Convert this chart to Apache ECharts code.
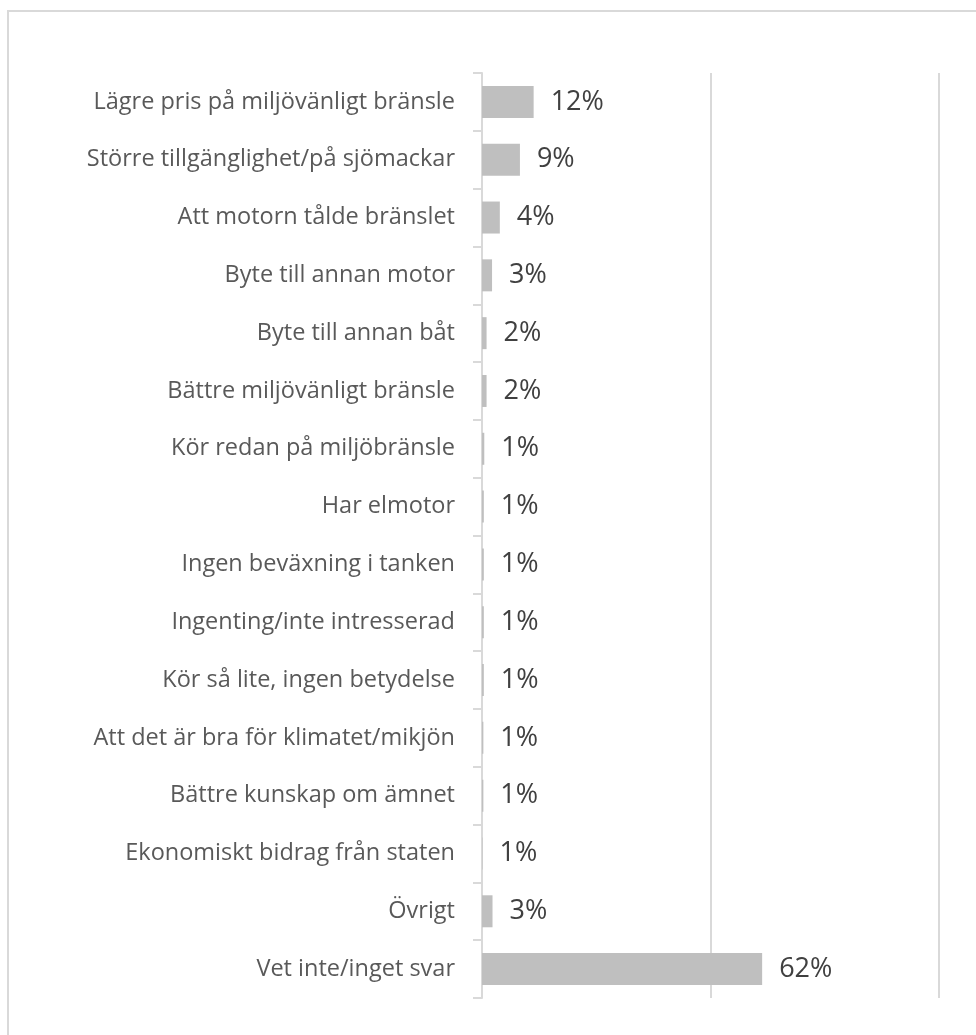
<!DOCTYPE html>
<html>
<head>
<meta charset="utf-8">
<script src="https://cdn.jsdelivr.net/npm/echarts@6/dist/echarts.min.js"></script>
<style>
  html, body { margin: 0; padding: 0; background: #ffffff; }
  #chart { width: 976px; height: 1035px; }
</style>
</head>
<body>
<div id="chart"></div>
<script>
const categories = [
  "Lägre pris på miljövänligt bränsle",
  "Större tillgänglighet/på sjömackar",
  "Att motorn tålde bränslet",
  "Byte till annan motor",
  "Byte till annan båt",
  "Bättre miljövänligt bränsle",
  "Kör redan på miljöbränsle",
  "Har elmotor",
  "Ingen beväxning i tanken",
  "Ingenting/inte intresserad",
  "Kör så lite, ingen betydelse",
  "Att det är bra för klimatet/mikjön",
  "Bättre kunskap om ämnet",
  "Ekonomiskt bidrag från staten",
  "Övrigt",
  "Vet inte/inget svar"
];
const values = [11.3, 8.3, 3.9, 2.2, 1.0, 1.0, 0.5, 0.4, 0.4, 0.4, 0.4, 0.3, 0.3, 0.1, 2.3, 61.3];
const valueLabels = ["12%", "9%", "4%", "3%", "2%", "2%", "1%", "1%", "1%", "1%", "1%", "1%", "1%", "1%", "3%", "62%"];
const axisTicks = [0, 50, 100];

const chart = echarts.init(document.getElementById('chart'), null, { renderer: 'canvas' });
chart.setOption({
  animation: false,
  backgroundColor: '#ffffff',
  graphic: [{
    type: 'rect',
    shape: { x: 8, y: 11, width: 1100, height: 1100 },
    style: { fill: 'none', stroke: '#d9d9d9', lineWidth: 2 },
    silent: true
  }],
  grid: { left: 482, right: 37, top: 73, bottom: 37, containLabel: false },
  xAxis: {
    type: 'value',
    min: axisTicks[0],
    max: axisTicks[axisTicks.length - 1],
    interval: axisTicks[1] - axisTicks[0],
    axisLine: { show: false },
    axisTick: { show: false },
    axisLabel: { show: false },
    splitLine: { show: true, lineStyle: { color: '#d9d9d9', width: 2 } }
  },
  yAxis: {
    type: 'category',
    data: categories,
    inverse: true,
    axisLine: { show: true, lineStyle: { color: '#d9d9d9', width: 2 } },
    axisTick: { show: true, length: 9, lineStyle: { color: '#d9d9d9', width: 2 } },
    axisLabel: {
      margin: 27,
      color: '#595959',
      fontSize: 23.5,
      fontFamily: 'Open Sans'
    }
  },
  series: [{
    type: 'bar',
    data: values,
    barWidth: 32,
    itemStyle: { color: '#bfbfbf' },
    label: {
      show: true,
      position: 'right',
      distance: 17,
      color: '#404040',
      fontSize: 27,
      fontFamily: 'Open Sans',
      formatter: function (p) { return valueLabels[p.dataIndex]; }
    }
  }]
});
</script>
</body>
</html>
